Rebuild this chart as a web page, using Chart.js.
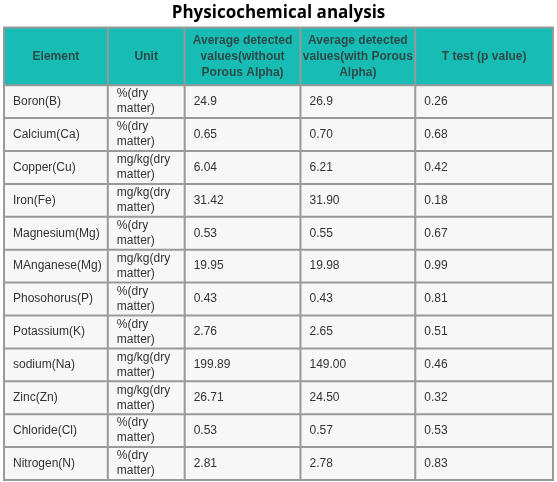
<!DOCTYPE html>
<html><head><meta charset="utf-8">
<script src="https://cdn.jsdelivr.net/npm/chart.js@4/dist/chart.umd.min.js"></script>
<style>html,body{margin:0;padding:0;background:#fff}#c{display:block}</style>
</head><body>
<div style="width:557px;height:482px"><canvas id="c"></canvas></div>
<script>
const title = 'Physicochemical analysis';
const headers = [['Element'], ['Unit'], ['Average detected', 'values(without', 'Porous Alpha)'], ['Average detected', 'values(with Porous', 'Alpha)'], ['T test (p value)']];
const elements = ['Boron(B)', 'Calcium(Ca)', 'Copper(Cu)', 'Iron(Fe)', 'Magnesium(Mg)', 'MAnganese(Mg)', 'Phosohorus(P)', 'Potassium(K)', 'sodium(Na)', 'Zinc(Zn)', 'Chloride(Cl)', 'Nitrogen(N)'];
const units = ['%(dry matter)', '%(dry matter)', 'mg/kg(dry matter)', 'mg/kg(dry matter)', '%(dry matter)', 'mg/kg(dry matter)', '%(dry matter)', '%(dry matter)', 'mg/kg(dry matter)', 'mg/kg(dry matter)', '%(dry matter)', '%(dry matter)'];
const withoutAlpha = ['24.9', '0.65', '6.04', '31.42', '0.53', '19.95', '0.43', '2.76', '199.89', '26.71', '0.53', '2.81'];
const withAlpha = ['26.9', '0.70', '6.21', '31.90', '0.55', '19.98', '0.43', '2.65', '149.00', '24.50', '0.57', '2.78'];
const pValues = ['0.26', '0.68', '0.42', '0.18', '0.67', '0.99', '0.81', '0.51', '0.46', '0.32', '0.53', '0.83'];

// layout (table units)
const colEdges = [0, 104, 181, 297, 412, 550];
const headH = 58, rowH = 33;
const totalH = headH + rowH * elements.length;

const tablePlugin = {
  id: 'table',
  beforeDatasetsDraw(chart) {
    const { ctx, scales: { x, y } } = chart;
    const X = v => x.getPixelForValue(v), Y = v => y.getPixelForValue(v);
    ctx.save();
    // header
    ctx.fillStyle = '#17bdb5';
    ctx.fillRect(X(0), Y(0), X(550) - X(0), Y(headH) - Y(0));
    ctx.fillStyle = '#f7f7f7';
    ctx.fillRect(X(0), Y(headH), X(550) - X(0), Y(totalH) - Y(headH));
    ctx.textBaseline = 'middle';
    ctx.font = 'bold 12px "Liberation Sans", Arial';
    ctx.fillStyle = '#2d4a48';
    ctx.textAlign = 'center';
    headers.forEach((lines, i) => {
      const cx = (X(colEdges[i]) + X(colEdges[i + 1])) / 2;
      const cy = Y(headH / 2);
      lines.forEach((l, k) => ctx.fillText(l, cx, cy + (k - (lines.length - 1) / 2) * 16));
    });
    ctx.font = '12px "Liberation Sans", Arial';
    ctx.fillStyle = '#333';
    ctx.textAlign = 'left';
    elements.forEach((el, r) => {
      const cy = Y(headH + rowH * (r + 0.5));
      const cells = [[el], units[r].split(' '), [withoutAlpha[r]], [withAlpha[r]], [pValues[r]]];
      cells.forEach((lines, i) => {
        const lx = X(colEdges[i]) + 9;
        lines.forEach((l, k) => ctx.fillText(l, lx, cy + (k - (lines.length - 1) / 2) * 15));
      });
    });
    // grid
    ctx.strokeStyle = '#999';
    ctx.lineWidth = 2;
    ctx.beginPath();
    colEdges.forEach(c => { ctx.moveTo(X(c), Y(0)); ctx.lineTo(X(c), Y(totalH)); });
    for (let r = 0; r <= elements.length + 1; r++) {
      const v = r === 0 ? 0 : headH + rowH * (r - 1);
      ctx.moveTo(X(0) - 1, Y(v)); ctx.lineTo(X(550) + 1, Y(v));
    }
    ctx.stroke();
    ctx.restore();
  }
};

new Chart(document.getElementById('c'), {
  type: 'scatter',
  data: { datasets: [{ data: [] }] },
  options: {
    responsive: true, maintainAspectRatio: false, animation: false,
    layout: { padding: { left: 4, right: 4, bottom: 2, top: 0 } },
    scales: {
      x: { type: 'linear', min: 0, max: 550, display: false },
      y: { type: 'linear', min: 0, max: totalH, reverse: true, display: false }
    },
    plugins: {
      legend: { display: false }, tooltip: { enabled: false },
      title: { display: true, text: title, color: '#000', font: { family: '"Open Sans", sans-serif', size: 17, weight: 'bold' }, padding: { top: 3, bottom: 4 } }
    }
  },
  plugins: [tablePlugin]
});
</script>
</body></html>
